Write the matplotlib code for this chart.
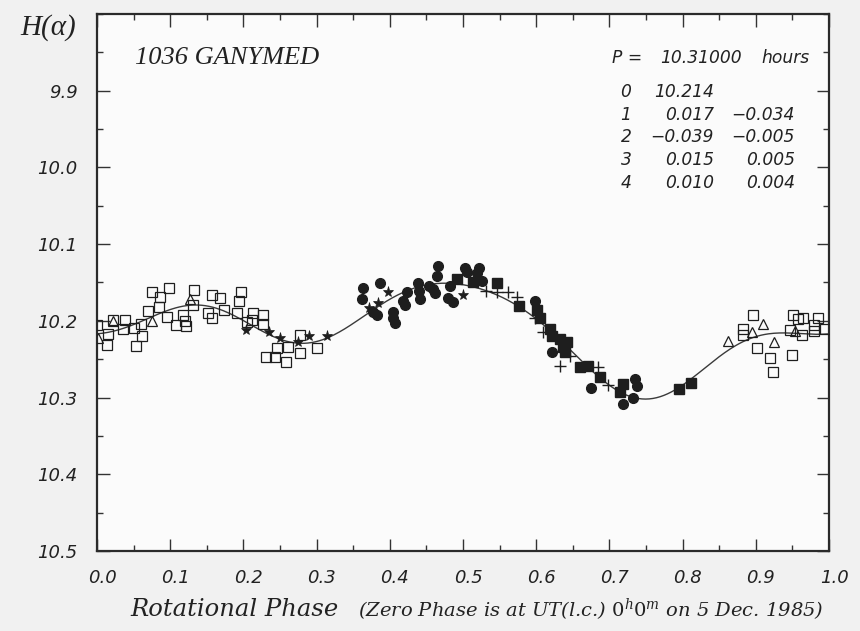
import numpy as np
import matplotlib
matplotlib.use("Agg")
import matplotlib.pyplot as plt
from matplotlib.ticker import MultipleLocator, FixedLocator
import matplotlib.transforms as mtransforms

plt.rcParams["mathtext.fontset"] = "dejavuserif"

# ---- data ----
sq_phase = [0.000, 0.015, 0.022, 0.038, 0.036, 0.050, 0.061, 0.053, 0.060, 0.070,
            0.075, 0.086, 0.085, 0.098, 0.096, 0.118, 0.120, 0.122, 0.133, 0.131,
            0.157, 0.168, 0.152, 0.157, 0.173, 0.197, 0.194, 0.191, 0.213, 0.212,
            0.227, 0.227, 0.231, 0.243, 0.246, 0.258, 0.261, 0.277, 0.277, 0.300,
            0.205, 0.013, 0.108,
            0.896, 0.882, 0.882, 0.901, 0.919, 0.923, 0.949, 0.947, 0.951, 0.965,
            0.963, 0.980, 0.980, 0.985, 0.995, 0.958]
sq_mag = [10.205, 10.217, 10.199, 10.199, 10.211, 10.210, 10.220, 10.233, 10.204, 10.187,
          10.162, 10.169, 10.182, 10.157, 10.195, 10.192, 10.200, 10.207, 10.160, 10.180,
          10.166, 10.170, 10.190, 10.197, 10.186, 10.163, 10.174, 10.190, 10.190, 10.199,
          10.193, 10.204, 10.247, 10.247, 10.236, 10.254, 10.234, 10.218, 10.242, 10.235,
          10.201, 10.232, 10.205,
          10.192, 10.211, 10.219, 10.235, 10.248, 10.267, 10.244, 10.212, 10.192, 10.196,
          10.219, 10.205, 10.213, 10.197, 10.211, 10.198]

tri_phase = [0.001, 0.022, 0.075, 0.127, 0.862, 0.895, 0.910, 0.925, 0.953]
tri_mag = [10.222, 10.200, 10.200, 10.172, 10.226, 10.214, 10.204, 10.228, 10.213]

star_phase = [0.204, 0.235, 0.250, 0.274, 0.290, 0.314, 0.372, 0.384, 0.398, 0.500]
star_mag = [10.212, 10.214, 10.222, 10.228, 10.220, 10.220, 10.183, 10.177, 10.162, 10.167]

circ_phase = [0.363, 0.362, 0.387, 0.377, 0.382, 0.405, 0.404, 0.407, 0.418, 0.421,
              0.423, 0.438, 0.440, 0.441, 0.453, 0.459, 0.462, 0.466, 0.465, 0.480,
              0.486, 0.482, 0.503, 0.505, 0.522, 0.519, 0.526, 0.598, 0.622, 0.675,
              0.735, 0.737, 0.732, 0.719]
circ_mag = [10.157, 10.171, 10.151, 10.188, 10.193, 10.188, 10.196, 10.203, 10.174, 10.180,
            10.162, 10.151, 10.161, 10.171, 10.154, 10.159, 10.164, 10.128, 10.141, 10.170,
            10.175, 10.154, 10.131, 10.136, 10.131, 10.138, 10.148, 10.174, 10.241, 10.288,
            10.276, 10.285, 10.300, 10.309]

fsq_phase = [0.492, 0.514, 0.546, 0.576, 0.601, 0.605, 0.619, 0.621, 0.632, 0.642,
             0.637, 0.639, 0.660, 0.671, 0.687, 0.719, 0.714, 0.795, 0.811]
fsq_mag = [10.146, 10.149, 10.151, 10.181, 10.186, 10.197, 10.211, 10.220, 10.224, 10.227,
           10.234, 10.241, 10.260, 10.259, 10.273, 10.282, 10.293, 10.289, 10.281]

plus_phase = [0.531, 0.546, 0.561, 0.574, 0.598, 0.609, 0.632, 0.646, 0.684, 0.698]
plus_mag = [10.161, 10.162, 10.162, 10.169, 10.197, 10.214, 10.259, 10.246, 10.260, 10.284]

# Fourier fit coefficients printed on the chart
period_hours = 10.31000
four_order = [0, 1, 2, 3, 4]
four_a = [10.214, 0.017, -0.039, 0.015, 0.010]
four_b = [None, -0.034, -0.005, 0.005, 0.004]

x_ticks = [0.0, 0.1, 0.2, 0.3, 0.4, 0.5, 0.6, 0.7, 0.8, 0.9, 1.0]
y_ticks = [9.9, 10.0, 10.1, 10.2, 10.3, 10.4, 10.5]

# ---- figure ----
fig = plt.figure(figsize=(8.6, 6.31), dpi=100)
fig.patch.set_facecolor("#f1f1f1")
ax = fig.add_axes([0.1128, 0.1268, 0.8512, 0.8512])
ax.set_facecolor("#fbfbfb")

ink = "#1e1e1e"

# fitted curve
phi = np.linspace(0, 1, 400)
curve = np.full_like(phi, four_a[0])
for k in four_order[1:]:
    curve += four_a[k] * np.cos(2 * np.pi * k * phi) + four_b[k] * np.sin(2 * np.pi * k * phi)
ax.plot(phi, curve, color="#3a3a3a", lw=1.0, zorder=2)

ax.plot(sq_phase, sq_mag, ls="none", marker="s", ms=7, mfc="none", mec=ink, mew=0.9, zorder=3)
ax.plot(tri_phase, tri_mag, ls="none", marker="^", ms=7, mfc="none", mec=ink, mew=0.9, zorder=3)
ax.plot(star_phase, star_mag, ls="none", marker="*", ms=8, mfc=ink, mec=ink, mew=0.5, zorder=3)
ax.plot(circ_phase, circ_mag, ls="none", marker="o", ms=7, mfc=ink, mec=ink, zorder=3)
ax.plot(fsq_phase, fsq_mag, ls="none", marker="s", ms=6.5, mfc=ink, mec=ink, zorder=3)
ax.plot(plus_phase, plus_mag, ls="none", marker="+", ms=8, mec=ink, mew=1.0, zorder=3)

ax.set_xlim(0, 1.0)
ax.set_ylim(10.5, 9.8)

ax.xaxis.set_major_locator(FixedLocator(x_ticks))
ax.xaxis.set_minor_locator(MultipleLocator(0.05))
ax.yaxis.set_major_locator(FixedLocator(y_ticks))
ax.yaxis.set_minor_locator(MultipleLocator(0.05))
ax.set_xticklabels([f"{v:.1f}" for v in x_ticks])
ax.set_yticklabels([f"{v:.1f}" for v in y_ticks])

ax.tick_params(which="both", direction="in", top=True, right=True, color="#333333")
ax.tick_params(which="major", length=9, width=1.0)
ax.tick_params(which="minor", length=4.5, width=1.0)
ax.tick_params(axis="x", which="major", pad=13)
ax.tick_params(axis="y", which="major", pad=14)
for lab in ax.get_xticklabels() + ax.get_yticklabels():
    lab.set_fontfamily("DejaVu Sans")
    lab.set_fontstyle("italic")
    lab.set_fontsize(13)
    lab.set_color("#222222")
off = mtransforms.ScaledTranslation(5 / 100, 0, fig.dpi_scale_trans)
for lab in ax.get_xticklabels():
    lab.set_transform(lab.get_transform() + off)

for s in ax.spines.values():
    s.set_linewidth(1.6)
    s.set_color("#2a2a2a")

serif = ["Liberation Serif", "DejaVu Serif"]
dserif = ["DejaVu Serif"]

fig.text(20 / 860, 1 - 28 / 631, "H(\u03b1)", fontsize=21, color="#222222",
         va="center", ha="left", family=serif, style="italic")

fig.text(135 / 860, 1 - 58 / 631, "1036 GANYMED",
         fontsize=19, family=serif, style="italic", color="#222222", va="center", ha="left")

tab_font = dict(family="DejaVu Sans", style="italic", fontsize=12.3, color="#222222", va="center")
fig.text(612 / 860, 1 - 58 / 631, "P =", ha="left", **tab_font)
fig.text(660 / 860, 1 - 58 / 631, f"{period_hours:.5f}", ha="left", **tab_font)
fig.text(810 / 860, 1 - 58 / 631, "hours", ha="right", **tab_font)
row_y = [92, 115, 137, 160, 183]
for k, yy in zip(four_order, row_y):
    fy = 1 - yy / 631
    fig.text(626 / 860, fy, f"{k}", ha="center", **tab_font)
    a = four_a[k]
    a_txt = f"{a:.3f}".replace("-", "\u2212")
    fig.text(714 / 860, fy, a_txt, ha="right", **tab_font)
    if four_b[k] is not None:
        b_txt = f"{four_b[k]:.3f}".replace("-", "\u2212")
        fig.text(795 / 860, fy, b_txt, ha="right", **tab_font)

fig.text(130 / 860, 1 - 610 / 631, "Rotational Phase", fontsize=17.5, family=dserif,
         style="italic", color="#222222", va="center", ha="left")
fig.text(358 / 860, 1 - 610 / 631,
         r"(Zero Phase is at UT(l.c.) $0^{h}0^{m}$ on 5 Dec. 1985)",
         fontsize=14, family=dserif, style="italic", color="#222222", va="center", ha="left")

fig.savefig("out.png", dpi=100, facecolor=fig.get_facecolor())
